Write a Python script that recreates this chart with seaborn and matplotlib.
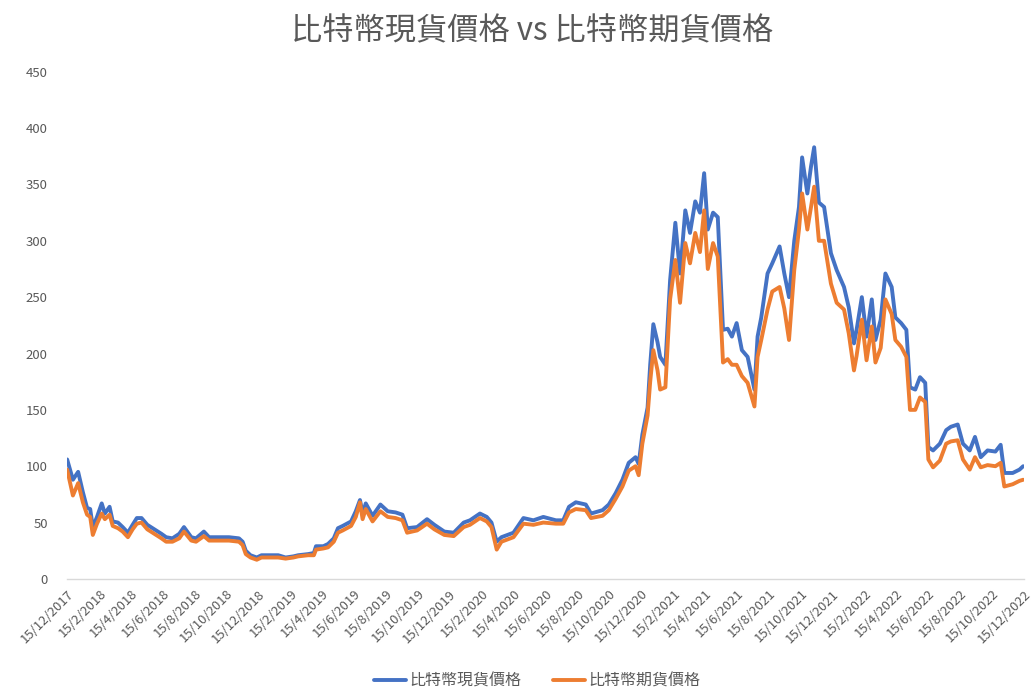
import pandas as pd
import matplotlib
matplotlib.use("Agg")
import matplotlib.pyplot as plt
import seaborn as sns
from matplotlib.lines import Line2D

# ---- data ----
dates = [
    "2017-12-15", "2017-12-26", "2018-01-05", "2018-01-14", "2018-01-22", "2018-01-28",
    "2018-02-02", "2018-02-10", "2018-02-19", "2018-02-25", "2018-03-06", "2018-03-12",
    "2018-03-22", "2018-03-31", "2018-04-10", "2018-04-19", "2018-04-27", "2018-05-06",
    "2018-05-17", "2018-06-03", "2018-06-13", "2018-06-22", "2018-07-04", "2018-07-17",
    "2018-07-26", "2018-08-09", "2018-08-18", "2018-09-02", "2018-09-12", "2018-10-01",
    "2018-10-20", "2018-11-08", "2018-11-15", "2018-11-21", "2018-11-30", "2018-12-12",
    "2018-12-21", "2019-01-03", "2019-01-22", "2019-02-05", "2019-02-20", "2019-03-01",
    "2019-03-20", "2019-03-31", "2019-04-04", "2019-04-18", "2019-04-27", "2019-05-08",
    "2019-05-16", "2019-05-25", "2019-06-10", "2019-06-19", "2019-06-27", "2019-07-02",
    "2019-07-08", "2019-07-21", "2019-08-05", "2019-08-19", "2019-09-03", "2019-09-16",
    "2019-09-25", "2019-10-14", "2019-11-02", "2019-11-16", "2019-12-05", "2019-12-23",
    "2020-01-11", "2020-01-23", "2020-02-11", "2020-02-24", "2020-03-04", "2020-03-14",
    "2020-03-23", "2020-04-15", "2020-05-04", "2020-05-23", "2020-06-11", "2020-07-05",
    "2020-07-19", "2020-07-30", "2020-08-12", "2020-08-31", "2020-09-10", "2020-10-02",
    "2020-10-14", "2020-10-27", "2020-11-09", "2020-11-21", "2020-12-04", "2020-12-10",
    "2020-12-17", "2020-12-27", "2021-01-01", "2021-01-07", "2021-01-15", "2021-01-20",
    "2021-01-30", "2021-02-08", "2021-02-18", "2021-02-27", "2021-03-09", "2021-03-18",
    "2021-03-28", "2021-04-06", "2021-04-14", "2021-04-21", "2021-05-01", "2021-05-10",
    "2021-05-20", "2021-05-29", "2021-06-06", "2021-06-15", "2021-06-25", "2021-07-06",
    "2021-07-19", "2021-07-25", "2021-08-01", "2021-08-13", "2021-08-22", "2021-09-05",
    "2021-09-14", "2021-09-23", "2021-10-03", "2021-10-12", "2021-10-18", "2021-10-28",
    "2021-11-04", "2021-11-10", "2021-11-19", "2021-11-29", "2021-12-12", "2021-12-23",
    "2022-01-06", "2022-01-15", "2022-01-25", "2022-01-30", "2022-02-09", "2022-02-18",
    "2022-02-28", "2022-03-07", "2022-03-17", "2022-03-26", "2022-04-07", "2022-04-14",
    "2022-04-25", "2022-05-05", "2022-05-12", "2022-05-22", "2022-05-31", "2022-06-10",
    "2022-06-16", "2022-06-25", "2022-07-08", "2022-07-20", "2022-07-29", "2022-08-11",
    "2022-08-21", "2022-09-03", "2022-09-13", "2022-09-24", "2022-10-07", "2022-10-22",
    "2022-11-01", "2022-11-08", "2022-11-24", "2022-12-07", "2022-12-14",
]

spot = [
    106, 88, 95, 77, 63, 62,
    46, 55, 67, 58, 64, 51,
    50, 46, 41, 48, 54, 54,
    48, 43, 40, 37, 36, 40,
    46, 37, 36, 42, 37, 37,
    37, 36, 33, 25, 21, 19,
    21, 21, 21, 19, 20, 21,
    22, 23, 29, 29, 31, 36,
    45, 47, 51, 60, 70, 58,
    67, 56, 66, 60, 59, 57,
    45, 46, 53, 48, 42, 41,
    50, 52, 58, 55, 50, 33,
    37, 41, 54, 52, 55, 52,
    52, 64, 68, 66, 58, 61,
    66, 76, 88, 103, 108, 102,
    128, 152, 190, 226, 210, 197,
    190, 265, 316, 271, 327, 307,
    335, 325, 360, 310, 325, 321,
    221, 222, 215, 227, 203, 197,
    168, 215, 232, 271, 280, 295,
    271, 250, 300, 330, 374, 342,
    366, 383, 334, 330, 289, 274,
    259, 241, 209, 221, 250, 215,
    248, 212, 230, 271, 259, 232,
    227, 221, 170, 168, 179, 174,
    117, 114, 120, 132, 135, 137,
    120, 114, 126, 108, 114, 113,
    119, 94, 94, 97, 100,
]

futures = [
    97, 74, 85, 68, 57, 55,
    39, 49, 58, 53, 57, 47,
    45, 42, 37, 44, 49, 50,
    44, 39, 36, 33, 33, 36,
    42, 34, 33, 38, 34, 34,
    34, 33, 30, 22, 19, 17,
    19, 19, 19, 18, 19, 20,
    21, 21, 26, 27, 28, 33,
    41, 43, 47, 55, 68, 53,
    62, 51, 60, 55, 54, 52,
    41, 43, 49, 44, 39, 38,
    46, 48, 54, 51, 46, 26,
    33, 37, 49, 48, 50, 49,
    49, 59, 62, 61, 54, 56,
    61, 71, 82, 96, 100, 92,
    120, 145, 175, 203, 185, 168,
    170, 248, 283, 245, 298, 280,
    307, 290, 327, 275, 298, 286,
    192, 195, 190, 190, 180, 174,
    153, 197, 212, 239, 255, 259,
    240, 212, 274, 310, 342, 310,
    330, 348, 300, 300, 262, 245,
    239, 218, 185, 198, 230, 194,
    224, 192, 205, 248, 235, 212,
    206, 197, 150, 150, 161, 157,
    106, 99, 105, 120, 122, 123,
    106, 97, 108, 99, 101, 100,
    103, 82, 84, 87, 88,
]

series_names = ["比特幣現貨價格", "比特幣期貨價格"]
title_text = "比特幣現貨價格 vs 比特幣期貨價格"
y_ticks = [0, 50, 100, 150, 200, 250, 300, 350, 400, 450]
x_tick_dates = pd.date_range("2017-12-01", "2022-12-01", freq="2MS") + pd.Timedelta(days=14)

# ---- build long-form table ----
d = pd.to_datetime(dates)
df = pd.concat([
    pd.DataFrame({"date": d, "price": spot, "series": series_names[0]}),
    pd.DataFrame({"date": d, "price": futures, "series": series_names[1]}),
], ignore_index=True)

sns.set_style("white")
plt.rcParams["font.family"] = ["Noto Sans CJK TC", "DejaVu Sans"]

fig = plt.figure(figsize=(10.33, 6.90), dpi=100)
ax = fig.add_axes([0.065, 0.161, 0.926, 0.735])

palette = {series_names[0]: "#4472C4", series_names[1]: "#ED7D31"}
sns.lineplot(data=df, x="date", y="price", hue="series", palette=palette,
             linewidth=2.8, ax=ax, legend=False)

gray = "#595959"
ax.set_ylim(0, 450)
ax.set_yticks(y_ticks)
ax.set_xlim(pd.Timestamp("2017-12-15"), pd.Timestamp("2022-12-15"))
ax.set_xticks(x_tick_dates)
ax.set_xticklabels([f"{t.day}/{t.month}/{t.year}" for t in x_tick_dates])
for lbl in ax.get_xticklabels():
    lbl.set_rotation(45)
    lbl.set_ha("right")
    lbl.set_rotation_mode("anchor")
ax.tick_params(axis="x", colors=gray, labelsize=9.5, length=4, color="#D9D9D9", direction="out", pad=2)
ax.tick_params(axis="y", colors=gray, labelsize=9.5, length=0, pad=14)
ax.set_xlabel("")
ax.set_ylabel("")
for s in ["top", "right", "left"]:
    ax.spines[s].set_visible(False)
ax.spines["bottom"].set_color("#D9D9D9")
ax.spines["bottom"].set_linewidth(1)
ax.grid(False)

fig.text(0.515, 0.955, title_text, ha="center", va="center", fontsize=22.5, color=gray)

handles = [Line2D([], [], color=palette[n], linewidth=2.8) for n in series_names]
fig.legend(handles, series_names, loc="center", bbox_to_anchor=(0.52, 0.013),
           ncol=2, frameon=False, fontsize=11.5, labelcolor=gray,
           handlelength=2.0, columnspacing=2.0, handletextpad=0.2)

fig.savefig("out.png", dpi=100)
